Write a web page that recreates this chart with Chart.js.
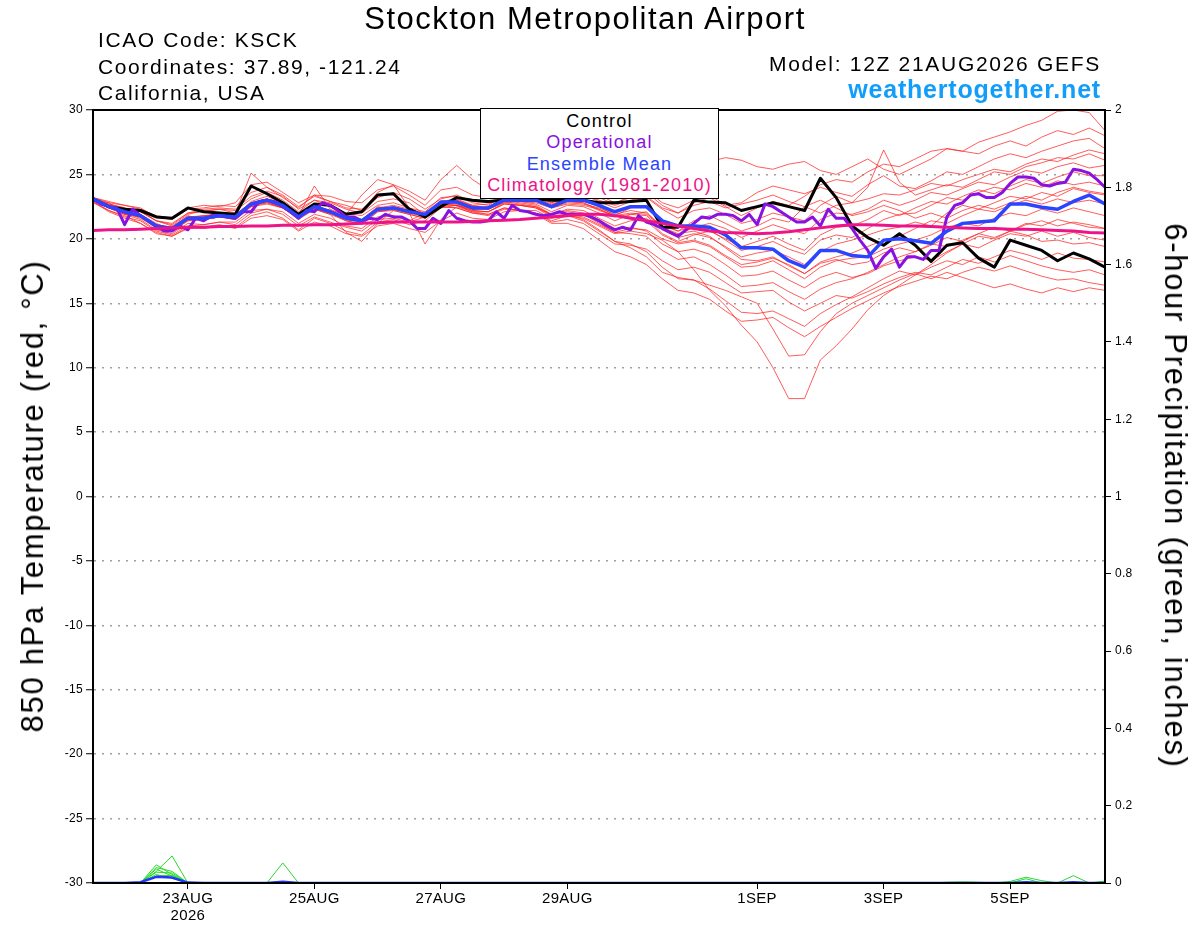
<!DOCTYPE html>
<html>
<head>
<meta charset="utf-8">
<script src="https://cdn.jsdelivr.net/npm/chart.js@4.4.1/dist/chart.umd.min.js"></script>
<style>
  html, body { margin: 0; padding: 0; background: #fff; }
  #wrap { position: relative; width: 1200px; height: 927px; overflow: hidden;
          font-family: "Liberation Sans", Arial, sans-serif; }
  #c { position: absolute; left: 0; top: 0; }
  .t { position: absolute; white-space: nowrap; color: #000; }
  #title { left: 585px; top: 4px; transform: translateX(-50%); font-size: 31px; line-height: 30px; letter-spacing: 1.5px; }
  .info { left: 98px; font-size: 21px; line-height: 20px; letter-spacing: 1.6px; }
  .rinfo { right: 99px; font-size: 21px; line-height: 20px; letter-spacing: 1.7px; }
  #site { right: 99px; top: 76px; font-size: 25px; line-height: 26px; font-weight: bold; color: #139dfa; letter-spacing: 0.8px; }
  #legend { position: absolute; left: 480px; top: 108px; width: 237px; height: 87px; border: 1px solid #000;
            background: #fff; text-align: center; font-size: 18px; line-height: 21.3px; letter-spacing: 1.2px; padding-top: 2px; box-sizing: content-box; }
  .axt { position: absolute; white-space: nowrap; font-size: 31px; letter-spacing: 1.7px; color: #000; }
  #ylab { left: 33px; top: 496px; transform: translate(-50%, -50%) rotate(-90deg); }
  #y1lab { left: 1175px; top: 496px; transform: translate(-50%, -50%) rotate(90deg); }
</style>
</head>
<body>
<div id="wrap">
  <canvas id="c" width="1200" height="927"></canvas>
  <div class="t" id="title">Stockton Metropolitan Airport</div>
  <div class="t info" style="top:30px">ICAO Code: KSCK</div>
  <div class="t info" style="top:57px">Coordinates: 37.89, -121.24</div>
  <div class="t info" style="top:83px">California, USA</div>
  <div class="t rinfo" style="top:54px">Model: 12Z 21AUG2026 GEFS</div>
  <div class="t" id="site">weathertogether.net</div>
  <div id="legend">
    <div style="color:#000">Control</div>
    <div style="color:#8a12e0">Operational</div>
    <div style="color:#2a44ff">Ensemble Mean</div>
    <div style="color:#ec1488">Climatology (1981-2010)</div>
  </div>
  <div class="axt" id="ylab">850 hPa Temperature (red, °C)</div>
  <div class="axt" id="y1lab">6-hour Precipitation (green, inches)</div>
</div>
<script>
// 6-hourly steps from 12Z 21AUG2026; x = step index (0..64)
var tickIndex = [6, 14, 22, 30, 42, 50, 58];
var tickLabels = [['23AUG', '2026'], '25AUG', '27AUG', '29AUG', '1SEP', '3SEP', '5SEP'];

var control = [23.1,22.5,22.3,22.2,21.7,21.6,22.4,22.1,22.0,21.9,24.1,23.5,22.8,21.9,22.7,22.6,21.9,22.1,23.4,23.5,
  22.3,21.7,22.5,23.2,23.0,22.9,23.0,23.0,23.1,23.0,23.0,23.0,22.8,22.8,22.9,23.0,20.9,20.9,
  23.0,22.85,22.8,22.2,22.5,22.8,22.5,22.2,24.7,23.2,21.0,20.1,19.5,20.4,19.5,18.25,19.5,19.7,18.5,17.8,19.9,19.5,19.1,18.3,18.9,18.45,17.8];

// operational run is 3-hourly (x = j/2)
var operational = [23.1,22.7,22.5,22.4,21.1,22.3,21.8,21.4,21.0,20.6,
  20.6,21.0,20.7,21.6,21.4,21.8,21.8,21.7,21.6,22.1,
  22.1,22.9,23.0,22.9,22.5,22.1,21.6,22.2,22.1,22.8,
  22.6,22.2,21.7,21.7,21.4,21.6,21.5,21.9,21.7,21.7,
  21.4,20.8,20.8,21.6,21.2,22.2,21.6,21.4,21.3,21.3,
  21.4,22.1,21.6,22.6,22.2,22.1,21.9,21.8,21.9,22.1,
  21.9,21.9,21.9,21.7,21.4,21.0,20.7,20.9,20.7,21.8,
  21.3,21.1,20.8,20.5,20.2,20.7,21.2,21.7,21.6,21.9,
  21.9,21.8,21.4,21.9,21.1,22.7,22.5,22.1,21.7,21.3,
  21.3,21.7,21.0,22.3,21.6,21.6,20.8,19.9,19.1,17.7,
  18.6,19.2,17.8,18.6,18.6,18.4,19.1,19.1,21.7,22.6,
  22.8,23.4,23.5,23.2,23.2,23.6,24.3,24.8,24.8,24.7,
  24.2,24.1,24.3,24.4,25.4,25.3,25.1,24.6,24.0];

var ensembleMean = [23.1,22.5,22.1,21.8,21.0,20.8,21.6,21.6,21.8,21.7,
  22.7,23.0,22.6,21.7,22.5,22.1,21.6,21.4,22.3,22.4,
  22.1,21.9,22.85,22.85,22.4,22.4,23.0,23.0,23.0,22.5,
  23.0,23.0,22.6,22.1,22.5,22.5,21.4,21.0,21.0,20.9,
  20.3,19.3,19.3,19.2,18.3,17.8,19.1,19.1,18.7,18.6,
  19.9,20.0,19.85,19.65,20.6,21.2,21.3,21.4,22.7,22.7,
  22.45,22.3,22.9,23.4,22.7];

var climatology = [20.65,20.7,20.7,20.75,20.8,20.85,20.9,20.9,20.95,20.95,
  21.0,21.0,21.05,21.05,21.1,21.1,21.15,21.2,21.25,21.3,
  21.3,21.3,21.3,21.3,21.35,21.4,21.45,21.5,21.6,21.7,
  21.8,21.9,21.9,21.8,21.6,21.4,21.2,21.0,20.8,20.6,
  20.5,20.45,20.4,20.45,20.55,20.7,20.85,21.0,21.1,21.1,
  21.05,21.0,21.0,20.95,20.9,20.85,20.8,20.8,20.75,20.75,
  20.7,20.65,20.6,20.5,20.45];

var member01 = [23.0,22.8,22.6,22.3,21.8,21.6,22.4,22.6,22.5,22.8,24.2,24.4,23.6,22.8,23.4,23.3,22.9,22.8,23.8,24.1,23.4,
  22.6,23.8,24.0,23.4,23.2,24.0,23.8,23.6,23.0,23.5,23.8,23.4,22.8,23.2,23.6,22.6,
  22.0,22.8,23.2,22.5,21.8,22.4,22.9,22.6,23.3,24.2,24.6,24.4,25.2,25.8,
  25.6,26.2,26.8,27.0,26.8,27.5,27.9,28.3,28.8,29.2,29.9,30.0,29.8,28.4];
var member02 = [23.2,22.8,22.0,22.1,21.4,21.0,21.9,22.2,22.3,22.0,25.1,24.0,23.2,22.4,23.4,22.9,22.6,22.2,23.6,24.2,23.7,
  23.0,24.6,25.7,24.6,23.8,24.5,24.4,24.0,23.6,24.2,24.0,23.5,23.6,24.2,25.0,24.6,
  25.5,26.2,26.0,26.3,26.1,25.6,25.4,25.8,26.0,25.3,25.0,25.6,26.2,25.4,
  25.0,25.6,26.2,27.0,26.8,26.6,27.2,27.6,27.2,27.9,28.4,28.1,28.6,28.0];
var member03 = [22.9,22.2,21.8,21.2,20.4,20.2,20.9,20.8,21.0,20.9,21.8,22.1,21.6,20.7,21.6,21.2,20.6,20.3,21.3,21.5,21.1,
  21.4,22.4,22.6,22.3,22.4,23.1,23.3,23.4,22.8,23.3,23.6,23.2,22.7,23.4,23.8,22.8,
  22.4,23.0,23.4,22.6,22.8,23.6,24.1,23.8,23.5,24.0,23.6,23.3,24.2,24.9,
  24.1,23.9,24.5,25.2,25.0,25.6,26.2,26.6,26.3,26.8,27.2,27.6,27.8,27.0];
var member04 = [23.1,22.4,22.2,21.7,20.9,20.9,21.5,21.7,22.0,21.8,22.9,23.3,22.8,21.9,22.6,22.2,21.9,23.4,24.6,24.2,22.4,
  22.1,23.2,23.3,22.8,22.6,23.4,23.5,23.2,22.5,22.9,22.8,22.2,21.8,22.4,22.6,21.2,
  20.6,21.4,21.8,21.2,20.6,21.0,21.6,21.3,22.5,22.0,22.6,22.8,23.1,23.5,
  23.4,23.8,24.3,24.1,24.6,25.0,25.4,25.2,25.8,26.2,26.0,26.5,26.9,26.6];
var member05 = [23.0,22.6,21.9,21.9,21.2,20.7,21.7,21.8,21.9,21.6,22.6,22.9,22.5,21.6,22.4,22.0,21.5,21.4,22.2,22.5,22.2,
  21.8,22.9,23.1,22.6,22.7,23.3,23.2,23.1,22.6,23.2,23.4,22.9,22.4,22.9,23.2,22.3,
  21.6,22.2,22.4,21.9,21.2,21.5,22.0,21.7,21.4,22.6,23.3,22.8,24.0,26.9,
  24.4,23.4,23.8,24.2,24.0,24.6,25.2,25.0,25.6,25.9,26.3,26.2,26.6,26.1];
var member06 = [23.2,22.5,22.3,21.8,21.1,20.9,21.8,21.5,21.7,21.9,22.8,23.1,22.7,21.8,24.1,22.3,21.8,21.5,22.5,22.3,22.0,
  21.7,22.6,22.9,22.5,22.3,22.8,22.9,22.7,22.1,22.6,22.5,22.0,21.4,21.9,22.1,20.8,
  20.3,20.9,21.2,20.8,20.1,20.6,21.1,20.7,20.4,21.5,22.0,21.9,22.3,23.0,
  22.6,23.0,23.6,23.4,23.9,24.4,24.2,24.8,25.3,25.1,25.6,25.9,25.5,25.7];
var member07 = [23.0,22.7,22.4,22.1,21.4,21.2,22.0,22.1,22.3,22.2,23.1,23.6,23.0,22.1,23.0,22.5,22.0,21.8,22.6,22.8,22.4,
  21.8,22.7,22.6,22.2,22.1,22.8,22.6,22.4,21.9,22.3,22.2,21.6,21.0,21.4,21.6,20.4,
  19.8,20.3,20.6,20.0,19.4,19.8,20.2,19.6,19.1,20.3,20.9,21.0,21.5,22.2,
  21.8,22.4,22.9,22.7,23.3,23.8,23.5,24.1,24.6,24.3,24.8,25.2,24.9,24.9];
var member08 = [23.1,22.4,22.0,21.7,20.9,20.6,21.4,21.6,21.9,21.6,22.6,22.9,22.4,21.6,22.3,22.0,21.4,21.2,22.1,22.3,22.1,
  21.9,22.8,22.8,22.3,22.5,23.1,23.0,23.0,22.4,22.8,22.7,22.4,21.9,22.2,22.0,21.0,
  20.6,21.0,20.7,19.9,19.1,19.4,19.8,19.2,18.8,19.9,20.3,20.1,20.8,21.5,
  21.9,22.0,22.6,23.2,23.0,23.6,24.0,23.8,24.3,24.0,24.5,24.2,24.4,24.1];
var member09 = [23.0,22.4,21.9,21.5,20.7,20.4,21.2,21.1,21.3,21.3,22.2,22.3,22.1,21.2,21.9,21.6,21.0,20.8,21.7,21.8,21.4,
  22.0,22.9,22.9,22.5,22.4,23.0,23.1,23.1,22.6,22.9,22.8,22.3,21.7,21.9,21.8,20.7,
  20.1,20.4,20.1,19.4,18.6,18.9,19.1,18.6,18.0,19.0,19.6,19.9,20.3,20.7,
  20.9,21.3,21.0,22.0,22.6,22.3,22.8,23.3,23.1,23.6,23.3,23.9,23.6,23.4];
var member10 = [23.1,22.5,22.1,21.8,21.1,20.8,21.6,21.6,21.8,21.7,22.7,23.0,22.6,21.7,22.5,22.1,21.6,21.4,22.3,22.4,22.1,
  21.9,22.8,22.7,22.3,22.3,22.9,22.9,22.8,22.4,22.7,22.6,22.3,21.8,22.0,21.9,20.9,
  20.4,20.6,20.2,19.3,18.4,18.3,18.6,17.9,17.3,18.2,18.6,18.9,19.4,19.9,
  20.2,20.8,21.4,21.2,21.8,22.3,22.1,22.6,23.0,22.7,23.1,22.8,23.0,22.7];
var member11 = [22.9,22.1,21.6,21.2,20.5,20.2,20.8,20.9,21.1,20.8,21.6,21.8,21.5,20.6,21.3,21.0,20.4,20.2,21.0,21.2,20.8,
  20.5,21.4,22.0,21.6,21.5,22.1,22.2,22.2,21.6,21.9,21.7,21.1,20.5,20.8,20.7,20.0,
  19.6,19.8,19.4,18.6,17.8,17.9,18.3,17.6,16.9,17.8,18.3,18.5,18.6,19.2,
  19.6,19.9,20.3,20.9,21.2,21.0,21.6,22.0,21.8,22.3,22.0,22.4,22.1,21.8];
var member12 = [23.2,22.9,22.6,22.4,21.7,21.5,22.3,22.4,22.6,22.5,23.6,24.0,23.4,22.5,23.3,22.9,22.4,22.3,23.2,23.6,23.1,
  22.3,23.1,23.4,22.9,22.8,23.4,23.3,23.2,22.7,23.1,23.0,22.5,21.8,21.7,21.4,20.3,
  19.7,19.9,19.5,18.7,18.0,18.2,18.5,18.0,17.3,18.1,18.4,18.0,18.2,18.9,
  19.3,19.0,19.5,20.1,19.8,20.4,20.9,20.6,21.1,21.4,21.0,21.3,21.1,20.8];
var member13 = [22.8,22.2,21.7,21.4,20.6,20.3,21.0,21.1,21.3,21.1,22.0,22.3,21.9,21.0,21.7,21.3,20.9,20.6,21.5,21.6,21.3,
  21.7,22.6,22.6,22.1,22.1,22.7,22.6,22.5,21.9,22.2,22.0,21.5,20.8,20.9,20.6,19.6,
  19.0,19.2,18.8,18.0,17.1,17.2,17.5,16.8,16.2,17.0,17.4,17.0,17.3,17.9,
  18.3,18.6,18.3,19.0,19.6,19.3,19.9,20.4,20.2,20.6,20.2,20.5,20.1,19.9];
var member14 = [23.1,22.6,22.2,21.8,21.1,20.8,21.7,21.7,21.9,21.8,22.8,23.1,22.6,21.8,22.6,22.2,21.7,21.5,22.4,22.6,22.3,
  22.0,22.9,23.0,22.6,22.4,23.0,22.8,22.6,21.9,22.1,21.9,21.2,20.5,20.4,20.2,19.1,
  18.4,18.6,18.0,17.2,16.3,16.4,16.6,15.9,15.3,16.1,16.6,16.9,17.4,18.0,
  18.6,19.0,19.6,19.4,19.9,20.4,20.1,20.6,20.3,19.8,19.9,19.6,19.7,19.4];
var member15 = [23.0,22.4,21.9,21.7,20.8,20.6,21.4,21.5,21.7,21.5,22.5,22.7,22.4,21.5,22.3,21.9,20.5,19.8,21.2,22.2,21.9,
  21.6,22.5,22.4,22.0,21.9,22.4,22.2,22.0,21.3,21.5,21.2,20.4,19.6,19.5,19.2,18.3,
  17.6,17.8,17.4,16.6,15.8,15.9,16.0,15.1,14.4,15.0,15.6,15.4,15.9,16.5,
  17.0,17.4,17.2,17.8,18.4,18.1,18.6,19.1,18.8,18.4,18.9,18.5,18.4,18.2];
var member16 = [23.2,22.7,22.4,22.2,21.4,21.1,22.0,22.3,22.4,22.3,23.3,23.7,23.3,22.3,23.0,22.8,22.3,22.0,22.9,23.1,22.8,
  21.8,22.7,22.6,22.2,22.1,22.7,22.6,22.4,21.7,21.8,21.4,20.6,19.8,19.6,19.0,17.8,
  16.9,16.8,16.1,15.2,14.3,14.2,14.4,13.8,13.2,14.2,14.9,15.5,16.2,16.9,
  17.5,17.2,17.8,18.3,18.0,18.6,18.2,18.7,18.3,17.9,17.6,17.4,17.6,17.2];
var member17 = [23.0,22.5,22.0,21.7,20.9,20.7,21.5,21.5,21.7,21.6,22.6,22.8,22.4,21.6,22.4,22.0,21.5,21.3,22.2,22.3,22.0,
  19.6,21.5,22.5,22.1,21.9,22.4,22.2,21.9,21.2,21.2,20.8,19.9,19.0,18.6,18.0,16.9,
  16.0,15.8,15.3,14.4,13.6,13.7,13.9,13.1,12.4,13.2,13.9,14.6,15.2,15.8,
  16.3,16.7,17.1,16.9,17.4,17.8,17.5,17.9,17.5,17.1,16.8,16.9,16.6,16.4];
var member18 = [23.1,22.6,22.1,21.8,21.0,20.9,21.6,21.6,21.8,21.8,22.7,23.0,22.7,21.8,22.5,22.1,21.6,21.4,22.3,22.4,22.1,
  21.9,22.8,22.8,22.4,22.3,22.9,22.7,22.5,21.8,21.9,21.5,20.7,19.8,19.3,18.6,17.4,
  17.0,16.8,16.4,16.0,15.5,15.0,13.0,10.9,11.0,12.8,14.2,15.0,15.6,16.2,
  16.8,17.3,16.9,17.4,17.0,16.6,16.2,16.5,16.1,15.8,16.2,15.9,16.2,16.0];
var member19 = [23.0,22.4,22.0,21.6,20.9,20.6,21.5,21.5,21.7,21.5,22.5,22.8,22.4,21.6,22.3,21.9,21.4,21.1,22.1,22.2,21.9,
  21.6,22.5,22.4,22.0,21.8,22.3,22.2,22.0,21.4,21.8,21.6,21.0,20.4,20.6,20.4,19.9,
  19.0,17.6,16.0,14.8,13.3,12.0,10.0,7.6,7.6,10.6,11.7,13.0,14.5,15.6,
  16.4,17.2,18.0,18.9,19.6,20.2,20.0,20.6,21.2,21.0,21.5,21.2,20.9,20.8];
var member20 = [23.1,22.5,22.2,21.8,21.0,20.7,21.6,21.8,21.9,21.7,22.7,23.1,22.7,21.7,22.5,22.2,21.6,21.5,22.3,22.5,22.2,
  21.9,22.7,23.0,22.5,22.4,23.1,23.2,23.3,22.8,23.3,23.4,23.0,22.6,23.0,23.3,22.4,
  22.0,22.6,22.9,22.4,22.7,23.0,23.4,22.9,22.5,23.0,22.4,21.8,22.1,22.6,
  22.2,21.6,22.0,21.6,22.2,22.6,22.3,22.8,23.3,23.0,23.6,24.0,23.7,23.5];
var members = [member01, member02, member03, member04, member05, member06, member07, member08, member09, member10,
  member11, member12, member13, member14, member15, member16, member17, member18, member19, member20];

// 6-hour precipitation (inches): [step, amount], zero elsewhere
var precipMeanEvents = [[3, 0.002], [4, 0.016], [5, 0.014], [6, 0.001], [12, 0.003], [59, 0.002], [62, 0.002]];
var precipMemberEvents = [
  [[4, 0.047], [5, 0.022]],
  [[4, 0.030], [5, 0.070]],
  [[4, 0.040], [5, 0.030]],
  [[4, 0.036], [5, 0.018]],
  [[4, 0.028], [5, 0.026]],
  [[4, 0.022], [5, 0.012]],
  [[4, 0.018], [5, 0.020]],
  [[12, 0.052]],
  [[58, 0.004], [59, 0.015], [60, 0.006], [62, 0.019]],
  [[59, 0.011], [64, 0.005]],
  [[54, 0.002], [55, 0.003], [56, 0.002]]
];

var nSteps = 65;
function toPoints(arr, step) {
  return arr.map(function (v, i) { return { x: i * step, y: v }; });
}
function fromEvents(ev) {
  var a = [];
  for (var i = 0; i < nSteps; i++) a.push(0);
  ev.forEach(function (e) { a[e[0]] = e[1]; });
  return a;
}

var datasets = [];
members.forEach(function (m) {
  datasets.push({ data: toPoints(m, 1), borderColor: 'rgba(255,30,30,0.72)', borderWidth: 1, yAxisID: 'y', order: 10 });
});
precipMemberEvents.forEach(function (ev) {
  datasets.push({ data: toPoints(fromEvents(ev), 1), borderColor: '#2ad82a', borderWidth: 1, yAxisID: 'y1', order: 9 });
});
datasets.push({ data: toPoints(fromEvents(precipMeanEvents), 1), borderColor: '#2236ff', borderWidth: 2.5, yAxisID: 'y1', order: 8 });
datasets.push({ data: toPoints(control, 1), borderColor: '#000', borderWidth: 3, yAxisID: 'y', order: 4 });
datasets.push({ data: toPoints(operational, 0.5), borderColor: '#8a12e0', borderWidth: 3, yAxisID: 'y', order: 3 });
datasets.push({ data: toPoints(ensembleMean, 1), borderColor: '#2a44ff', borderWidth: 3.5, yAxisID: 'y', order: 2 });
datasets.push({ data: toPoints(climatology, 1), borderColor: '#ec1488', borderWidth: 3, yAxisID: 'y', order: 1 });

var fontFam = '"Liberation Sans", Arial, sans-serif';

var framePlugin = {
  id: 'frame',
  beforeDraw: function (chart) {
    chart.ctx.letterSpacing = '0.3px';
  },
  afterDraw: function (chart) {
    var c = chart.ctx, a = chart.chartArea;
    c.save();
    c.strokeStyle = '#000';
    c.lineWidth = 2;
    c.strokeRect(a.left, a.top, a.right - a.left, a.bottom - a.top);
    c.restore();
  }
};

new Chart(document.getElementById('c').getContext('2d'), {
  type: 'line',
  data: { datasets: datasets },
  plugins: [framePlugin],
  options: {
    responsive: false,
    animation: false,
    devicePixelRatio: 1,
    layout: { padding: { top: 110, left: 0, right: 0, bottom: 0 } },
    elements: { point: { radius: 0 }, line: { tension: 0, borderJoinStyle: 'round', borderCapStyle: 'round' } },
    plugins: { legend: { display: false }, tooltip: { enabled: false }, title: { display: false } },
    scales: {
      x: {
        type: 'linear', min: 0, max: 64,
        afterBuildTicks: function (s) { s.ticks = tickIndex.map(function (v) { return { value: v }; }); },
        afterFit: function (s) { s.height = 44; },
        ticks: {
          autoSkip: false, maxRotation: 0, minRotation: 0, padding: 2, color: '#000',
          font: { family: fontFam, size: 15, lineHeight: 1.1 },
          callback: function (v) { return tickLabels[tickIndex.indexOf(v)]; }
        },
        grid: { drawOnChartArea: false, drawTicks: true, tickLength: 6, tickColor: '#000', color: '#000' },
        border: { color: '#000', width: 2 }
      },
      y: {
        position: 'left', min: -30, max: 30,
        afterFit: function (s) { s.width = 93; },
        ticks: {
          stepSize: 5, padding: 3, color: '#000', font: { family: fontFam, size: 12 },
          callback: function (v) { return String(v); }
        },
        grid: { color: '#a0a0a0', lineWidth: 1.5, drawTicks: true, tickLength: 7, tickColor: '#000', tickWidth: 1, tickBorderDash: [] },
        border: { color: '#000', width: 2, dash: [2, 6] }
      },
      y1: {
        position: 'right', min: 0, max: 2,
        afterFit: function (s) { s.width = 95; },
        ticks: {
          stepSize: 0.2, padding: 4, color: '#000', font: { family: fontFam, size: 12 },
          callback: function (v) { return String(Math.round(v * 10) / 10); }
        },
        grid: { drawOnChartArea: false, drawTicks: true, tickLength: 6, tickColor: '#000', color: '#000' },
        border: { color: '#000', width: 2 }
      }
    }
  }
});
</script>
</body>
</html>
